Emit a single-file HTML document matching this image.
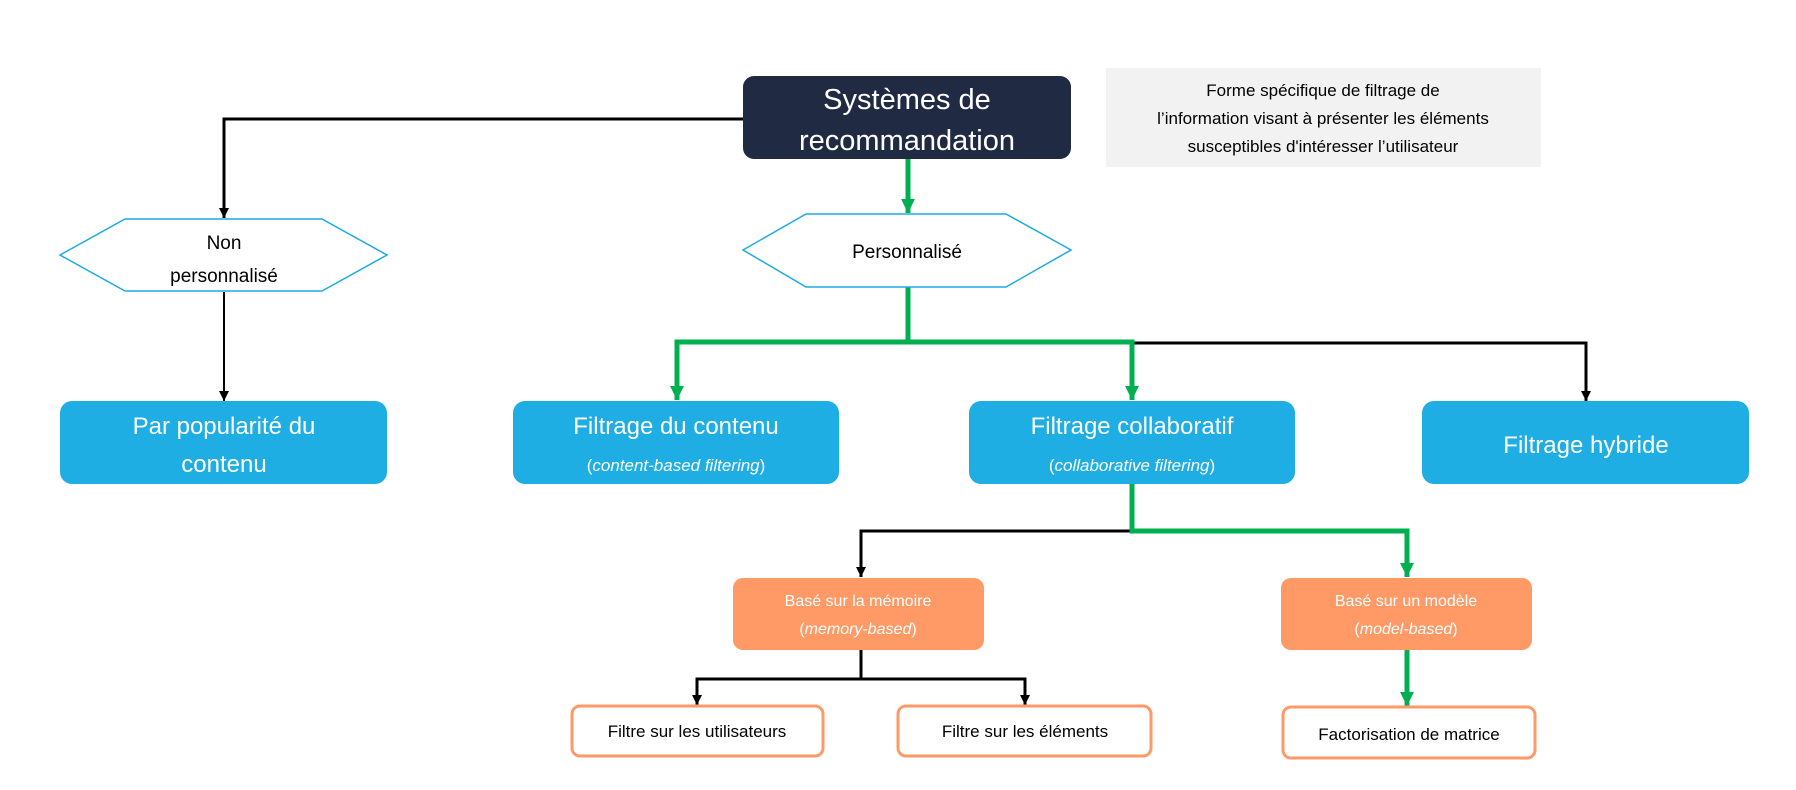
<!DOCTYPE html>
<html><head><meta charset="utf-8"><style>
html,body{margin:0;padding:0;background:#fff;}
svg{display:block;}
text{font-family:"Liberation Sans",sans-serif;}
</style></head><body>
<svg width="1796" height="790" viewBox="0 0 1796 790" xmlns="http://www.w3.org/2000/svg">
<defs>
<marker id="ab" viewBox="0 0 10 10" refX="10" refY="5" markerWidth="15" markerHeight="10" orient="auto" markerUnits="userSpaceOnUse"><path d="M0,0 L10,5 L0,10 z" fill="#000"/></marker>
<marker id="ag" viewBox="0 0 10 10" refX="10" refY="5" markerWidth="19" markerHeight="14" orient="auto" markerUnits="userSpaceOnUse"><path d="M0,0 L10,5 L0,10 z" fill="#00b050"/></marker>
</defs>
<g fill="none" stroke-linejoin="miter">
<path d="M743 119 H224 V218" stroke="#000" stroke-width="3" marker-end="url(#ab)"/>
<path d="M224 292 V401" stroke="#000" stroke-width="2" marker-end="url(#ab)"/>
<path d="M908 159 V213" stroke="#00b050" stroke-width="5" marker-end="url(#ag)"/>
<path d="M1132 343 H1586 V401" stroke="#000" stroke-width="3" marker-end="url(#ab)"/>
<path d="M908 287 V342 H677 V400" stroke="#00b050" stroke-width="5" marker-end="url(#ag)"/>
<path d="M908 342 H1132 V400" stroke="#00b050" stroke-width="5" marker-end="url(#ag)"/>
<path d="M1132 531 H861 V577" stroke="#000" stroke-width="3" marker-end="url(#ab)"/>
<path d="M1132 484 V531 H1407 V577" stroke="#00b050" stroke-width="5" marker-end="url(#ag)"/>
<path d="M861 650 V679" stroke="#000" stroke-width="3"/>
<path d="M697 705 V679 H1025 V705" stroke="#000" stroke-width="3" marker-end="url(#ab)"/>
<path d="M697 681 V705" stroke="#000" stroke-width="3" marker-end="url(#ab)"/>
<path d="M1407 650 V706" stroke="#00b050" stroke-width="5" marker-end="url(#ag)"/>
</g>
<rect x="743" y="76" width="328" height="83" rx="11" fill="#202a43"/>
<text x="907" y="109" font-size="29" fill="#fff" text-anchor="middle">Systèmes de</text>
<text x="907" y="150" font-size="29" fill="#fff" text-anchor="middle">recommandation</text>
<rect x="1106" y="68" width="435" height="99" fill="#f2f2f2"/>
<text x="1323" y="96" font-size="17" fill="#000" text-anchor="middle">Forme spécifique de filtrage de</text>
<text x="1323" y="124" font-size="17" fill="#000" text-anchor="middle">l’information visant à présenter les éléments</text>
<text x="1323" y="152" font-size="17" fill="#000" text-anchor="middle">susceptibles d'intéresser l’utilisateur</text>
<polygon points="60,255 125,219 322,219 387,255 322,291 125,291" fill="#fff" stroke="#1eaae3" stroke-width="1.5"/>
<text x="224" y="249" font-size="19" text-anchor="middle">Non</text>
<text x="224" y="282" font-size="19" text-anchor="middle">personnalisé</text>
<polygon points="743,250 806,214 1006,214 1071,250 1006,287 806,287" fill="#fff" stroke="#1eaae3" stroke-width="1.5"/>
<text x="907" y="258" font-size="19" text-anchor="middle">Personnalisé</text>
<g fill="#1eaee3">
<rect x="60" y="401" width="327" height="83" rx="12"/>
<rect x="513" y="401" width="326" height="83" rx="12"/>
<rect x="969" y="401" width="326" height="83" rx="12"/>
<rect x="1422" y="401" width="327" height="83" rx="12"/>
</g>
<g fill="#fff" font-size="24" text-anchor="middle">
<text x="224" y="434">Par popularité du</text>
<text x="224" y="472">contenu</text>
<text x="676" y="434">Filtrage du contenu</text>
<text x="676" y="471" font-size="17">(<tspan font-style="italic">content-based filtering</tspan>)</text>
<text x="1132" y="434">Filtrage collaboratif</text>
<text x="1132" y="471" font-size="17">(<tspan font-style="italic">collaborative filtering</tspan>)</text>
<text x="1586" y="453">Filtrage hybride</text>
</g>
<rect x="733" y="578" width="251" height="72" rx="10" fill="#ff9966"/>
<rect x="1281" y="578" width="251" height="72" rx="10" fill="#ff9966"/>
<g fill="#fff" font-size="16" text-anchor="middle">
<text x="858" y="606">Basé sur la mémoire</text>
<text x="858" y="634">(<tspan font-style="italic">memory-based</tspan>)</text>
<text x="1406" y="606">Basé sur un modèle</text>
<text x="1406" y="634">(<tspan font-style="italic">model-based</tspan>)</text>
</g>
<g fill="#fff" stroke="#ff9966" stroke-width="3">
<rect x="572" y="706" width="251" height="50" rx="8"/>
<rect x="898" y="706" width="253" height="50" rx="8"/>
<rect x="1283" y="707" width="252" height="51" rx="8"/>
</g>
<g font-size="17" fill="#000" text-anchor="middle">
<text x="697" y="737">Filtre sur les utilisateurs</text>
<text x="1025" y="737">Filtre sur les éléments</text>
<text x="1409" y="740">Factorisation de matrice</text>
</g>
</svg>
</body></html>
